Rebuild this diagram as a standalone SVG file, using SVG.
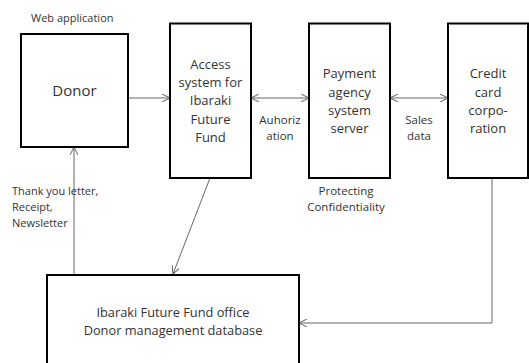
<svg xmlns="http://www.w3.org/2000/svg" width="529" height="363" viewBox="0 0 529 363">
  <style>
    .box { fill: #fff; stroke: #000; stroke-width: 2; }
    .lbl { font-family: "Open Sans", "Liberation Sans", sans-serif; font-size: 13px; fill: #333; text-anchor: middle; }
    .small { font-size: 11.5px; }
    .note { font-family: "Open Sans", "Liberation Sans", sans-serif; font-size: 11px; fill: #333; }
    .conn { fill: none; stroke: #666; stroke-width: 1; }
  </style>
  <defs>
    <marker id="arrow" viewBox="0 0 10 10" refX="10" refY="5" markerWidth="8" markerHeight="8" markerUnits="userSpaceOnUse" orient="auto-start-reverse">
      <path d="M0,0 L10,5 L0,10" fill="none" stroke="#555" stroke-width="1.2"/>
    </marker>
  </defs>
  <rect width="529" height="363" fill="#fff"/>

  <g id="connectors">
    <line class="conn" x1="128" y1="98" x2="170" y2="98" marker-end="url(#arrow)"/>
    <line class="conn" x1="251" y1="98" x2="309" y2="98" marker-start="url(#arrow)" marker-end="url(#arrow)"/>
    <line class="conn" x1="390" y1="98" x2="448" y2="98" marker-start="url(#arrow)" marker-end="url(#arrow)"/>
    <line class="conn" x1="74" y1="275" x2="74" y2="147" marker-end="url(#arrow)"/>
    <line class="conn" x1="210" y1="178" x2="173" y2="274" marker-end="url(#arrow)"/>
    <polyline class="conn" points="492,178 492,323 299,323" marker-end="url(#arrow)"/>
  </g>

  <g id="web-label">
    <text class="note" x="31" y="22">Web application</text>
  </g>

  <g id="donor">
    <rect class="box" x="21" y="34" width="107" height="113"/>
    <text class="lbl" x="74.5" y="96" style="font-size:15px">Donor</text>
  </g>

  <g id="access-system">
    <rect class="box" x="170" y="23.5" width="81" height="154.5"/>
    <text class="lbl" x="210.5" y="69">Access</text>
    <text class="lbl" x="210.5" y="87">system for</text>
    <text class="lbl" x="210.5" y="105">Ibaraki</text>
    <text class="lbl" x="210.5" y="124">Future</text>
    <text class="lbl" x="210.5" y="142">Fund</text>
  </g>

  <g id="payment-server">
    <rect class="box" x="309" y="23.5" width="81" height="154.5"/>
    <text class="lbl" x="349.5" y="78">Payment</text>
    <text class="lbl" x="349.5" y="97">agency</text>
    <text class="lbl" x="349.5" y="115">system</text>
    <text class="lbl" x="349.5" y="133">server</text>
  </g>

  <g id="credit-card">
    <rect class="box" x="448" y="23.5" width="80" height="154.5"/>
    <text class="lbl" x="488" y="78">Credit</text>
    <text class="lbl" x="488" y="97">card</text>
    <text class="lbl" x="488" y="115">corpo-</text>
    <text class="lbl" x="488" y="133">ration</text>
  </g>

  <g id="connector-labels">
    <text class="lbl small" x="280" y="124">Auhoriz</text>
    <text class="lbl small" x="280" y="140">ation</text>
    <text class="lbl small" x="419" y="124">Sales</text>
    <text class="lbl small" x="419" y="140">data</text>
    <text class="lbl small" x="346" y="195">Protecting</text>
    <text class="lbl small" x="346" y="211">Confidentiality</text>
    <text class="note" x="12" y="195">Thank you letter,</text>
    <text class="note" x="12" y="211">Receipt,</text>
    <text class="note" x="12" y="227">Newsletter</text>
  </g>

  <g id="fund-office">
    <rect class="box" x="47" y="275" width="252" height="100"/>
    <text class="lbl" x="173" y="317" style="font-size:12.8px">Ibaraki Future Fund office</text>
    <text class="lbl" x="173" y="335" style="font-size:12.8px">Donor management database</text>
  </g>
</svg>
